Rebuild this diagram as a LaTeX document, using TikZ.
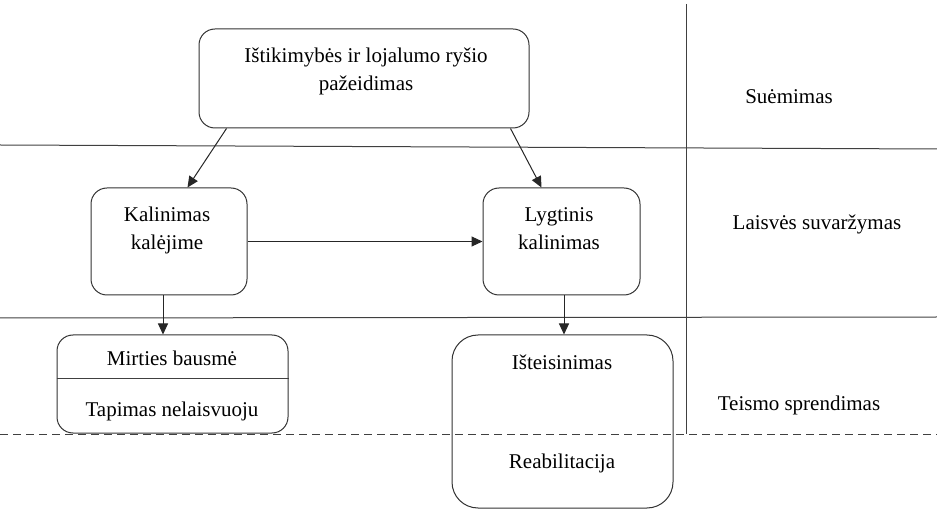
\documentclass[tikz,border=0pt]{standalone}
\usepackage{fontspec}
\setmainfont{Liberation Serif}
\usetikzlibrary{arrows.meta,positioning}

\begin{document}
\begin{tikzpicture}[x=1pt,y=-1pt,
    box/.style={draw=black!80, line width=1pt, rounded corners=16pt, inner sep=0pt},
    txt/.style={font={\fontsize{21pt}{28pt}\selectfont}, align=center, inner sep=0pt, text=black},
    arr/.style={draw=black!85, line width=1pt, -{Triangle[length=11pt,width=10pt]}},
    rule/.style={draw=black!75, line width=1pt}]

            \useasboundingbox (0,0) rectangle (937,510);

            % rows and column
            \coordinate (r1w) at (0,145);   \coordinate (r1e) at (937,149);
            \coordinate (r2w) at (0,318);   \coordinate (r2e) at (937,317);
            \coordinate (r3w) at (0,434);   \coordinate (r3e) at (937,434);
            \coordinate (ctop) at (686,4);  \coordinate (cbot) at (686,434);

            \draw[rule] (r1w)--(r1e);
            \draw[rule] (r2w)--(r2e);
            \draw[rule, dashed, dash pattern=on 8pt off 5pt] (r3w)--(r3e);
            \draw[rule] (ctop)--(cbot);

            % boxes
            \node[box, minimum width=330pt, minimum height=99pt] (pazeid) at (364,78.5) {};
            \node[box, minimum width=156pt, minimum height=107pt] (kal) at (169,241.5) {};
            \node[box, minimum width=157pt, minimum height=107pt] (lygt) at (561.5,241.5) {};
            \node[box, minimum width=231pt, minimum height=98pt] (mirt) at (172.5,384) {};
            \node[box, rounded corners=26pt, minimum width=221pt, minimum height=173pt] (isteis) at (562.5,421.5) {};
            \draw[rule] ([yshift=5pt]mirt.west)--([yshift=5pt]mirt.east);

            % texts in boxes (base = last line)
            \node[txt, anchor=base] (pazeidt) at (366,91) {Ištikimybės ir lojalumo ryšio\\pažeidimas};
            \node[txt, anchor=base] (kalt) at (167,250) {Kalinimas\\kalėjime};
            \node[txt, anchor=base] (lygtt) at (559,250) {Lygtinis\\kalinimas};
            \node[txt, anchor=base] (mirtt) at (172,366) {Mirties bausmė};
            \node[txt, anchor=base] (tapt) at (172,417) {Tapimas nelaisvuoju};
            \node[txt, anchor=base] (isteist) at (562,370) {Išteisinimas};
            \node[txt, anchor=base] (reabt) at (562,468) {Reabilitacija};

            % stage labels
            \node[txt, anchor=base] (suem) at (789,104) {Suėmimas};
            \node[txt, anchor=base] (laisv) at (817,230) {Laisvės suvaržymas};
            \node[txt, anchor=base] (teism) at (799,410) {Teismo sprendimas};

            % arrows
            \draw[arr] ([xshift=28pt]pazeid.south west)--([xshift=97pt]kal.north west);
            \draw[arr] ([xshift=-19pt]pazeid.south east)--([xshift=59pt]lygt.north west);
            \draw[arr] (kal.east)--(lygt.west);
            \draw[arr] ([xshift=-6pt]kal.south)--([xshift=-9.5pt]mirt.north);
            \draw[arr] ([xshift=2.5pt]lygt.south)--([xshift=1.5pt]isteis.north);

        \end{tikzpicture}
\end{document}
